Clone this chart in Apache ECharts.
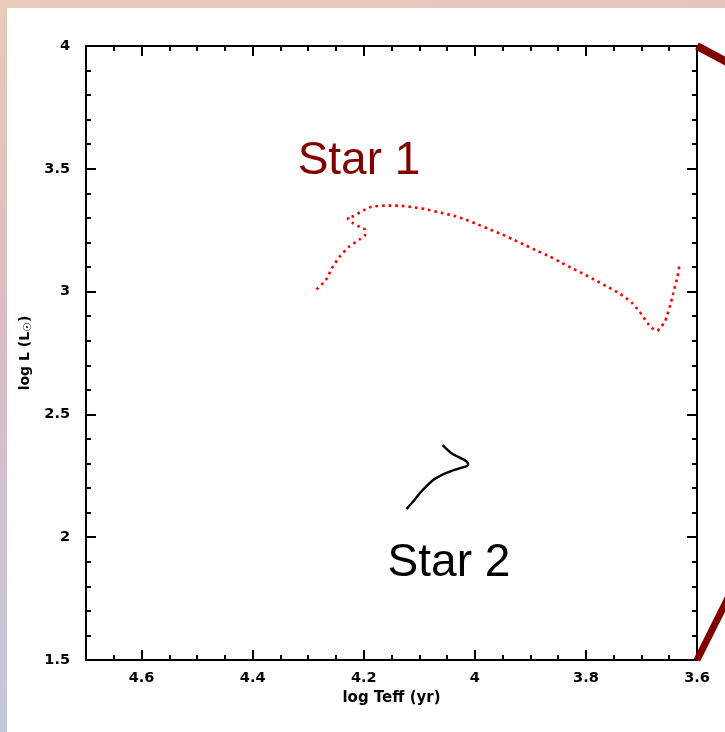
<!DOCTYPE html>
<html>
<head>
<meta charset="utf-8">
<title>HR diagram</title>
<script src="https://cdn.jsdelivr.net/npm/echarts@6/dist/echarts.min.js"></script>
<style>
  html, body { margin: 0; padding: 0; width: 725px; height: 732px; overflow: hidden; }
  body { position: relative; background: linear-gradient(to bottom, #e8cbb8 0%, #dbbcc4 45%, #c4c9dd 100%); }
  #topband { position: absolute; left: 0; top: 0; width: 725px; height: 8px;
             background: linear-gradient(to right, #e8ccb9, #e5c4bc); }
  #sheet { position: absolute; left: 7px; top: 8px; right: 0; bottom: 0; background: #ffffff; }
  #chart { position: absolute; left: 0; top: 0; width: 725px; height: 732px; }
</style>
</head>
<body>
<div id="topband"></div>
<div id="sheet"></div>
<div id="chart"></div>
<script>
// Evolutionary tracks: log Teff vs log L
const star1LogTeff = [4.285, 4.268, 4.257, 4.244, 4.227, 4.207, 4.198, 4.197, 4.207, 4.219, 4.228, 4.228,
  4.218, 4.207, 4.197, 4.185, 4.161, 4.137, 4.113, 4.089, 4.067, 4.043, 4.020, 3.997, 3.976, 3.953,
  3.932, 3.909, 3.887, 3.866, 3.845, 3.823, 3.802, 3.781, 3.759, 3.738, 3.718, 3.703, 3.689, 3.682,
  3.672, 3.665, 3.658, 3.654, 3.647, 3.641, 3.635, 3.631];
const star1LogL = [3.009, 3.048, 3.096, 3.141, 3.182, 3.213, 3.228, 3.251, 3.263, 3.278, 3.294, 3.305,
  3.307, 3.323, 3.335, 3.346, 3.350, 3.350, 3.344, 3.336, 3.324, 3.312, 3.296, 3.276, 3.256, 3.235,
  3.213, 3.189, 3.165, 3.144, 3.119, 3.093, 3.069, 3.044, 3.017, 2.990, 2.956, 2.917, 2.872, 2.853,
  2.840, 2.856, 2.876, 2.902, 2.955, 3.009, 3.061, 3.118];

const star2LogTeff = [4.123, 4.111, 4.099, 4.087, 4.075, 4.060, 4.045, 4.027, 4.012, 4.014, 4.027, 4.042, 4.054, 4.058];
const star2LogL = [2.115, 2.145, 2.179, 2.208, 2.233, 2.253, 2.267, 2.281, 2.294, 2.307, 2.324, 2.342, 2.366, 2.375];

// Axis ranges and tick spacing
const xRange = [3.6, 4.7];
const yRange = [1.5, 4.0];
const xMajorStep = 0.2;
const xMinorStep = 0.05;
const yMajorStep = 0.5;

// Annotation anchors (data coordinates of the text's left/middle)
const labels = [
  { text: 'Star 1', at: [4.319, 3.532], color: '#800000' },
  { text: 'Star 2', at: [4.157, 1.893], color: '#000000' }
];

const pairs = (xs, ys) => xs.map((x, i) => [x, ys[i]]);

const tickFont = { fontFamily: 'DejaVu Sans', fontWeight: 'bold', fontSize: 14.5, color: '#000' };
const blackLine = { color: '#000', width: 2 };

function majorX(position, showLabels) {
  return {
    type: 'value', gridIndex: 0, position: position,
    min: xRange[0], max: xRange[1], interval: xMajorStep, inverse: true,
    axisLine: { show: true, onZero: false, lineStyle: blackLine },
    axisTick: { show: true, inside: true, length: 10, lineStyle: blackLine },
    axisLabel: Object.assign({
      show: showLabels, margin: 11,
      formatter: v => (v > xRange[1] - 0.05 ? '' : String(Math.round(v * 10) / 10))
    }, tickFont),
    splitLine: { show: false },
    name: showLabels ? 'log Teff (yr)' : '',
    nameLocation: 'middle', nameGap: 31,
    nameTextStyle: { fontFamily: 'DejaVu Sans', fontWeight: 'bold', fontSize: 15, color: '#000' }
  };
}
function minorX(position) {
  return {
    type: 'value', gridIndex: 1, position: position,
    min: xRange[0], max: xRange[1], interval: xMinorStep, inverse: true,
    axisLine: { show: false, onZero: false },
    axisTick: { show: true, inside: true, length: 5, lineStyle: blackLine },
    axisLabel: { show: false },
    splitLine: { show: false }
  };
}
function majorY(position, showLabels) {
  return {
    type: 'value', gridIndex: 0, position: position,
    min: yRange[0], max: yRange[1], interval: yMajorStep,
    axisLine: { show: true, onZero: false, lineStyle: blackLine },
    axisTick: { show: true, inside: true, length: 10, lineStyle: blackLine },
    minorTick: { show: true, splitNumber: 5, length: 5, lineStyle: blackLine },
    axisLabel: Object.assign({
      show: showLabels, margin: 16,
      formatter: v => String(Math.round(v * 10) / 10)
    }, tickFont),
    splitLine: { show: false },
    minorSplitLine: { show: false },
    name: showLabels ? 'log L (L{sub|☉})' : '',
    nameLocation: 'middle', nameGap: 40, nameRotate: 90,
    nameTextStyle: {
      fontFamily: 'DejaVu Sans', fontWeight: 'bold', fontSize: 14, color: '#000',
      rich: {
        sub: { fontFamily: 'DejaVu Sans', fontWeight: 'bold', fontSize: 11, color: '#000', padding: [0, 0, -6, 0] }
      }
    }
  };
}

const gridBox = { left: 86, top: 46, right: 28, bottom: 72, containLabel: false, outerBoundsMode: 'none' };

const chart = echarts.init(document.getElementById('chart'), null, { renderer: 'canvas' });
chart.setOption({
  backgroundColor: 'transparent',
  animation: false,
  grid: [Object.assign({}, gridBox), Object.assign({}, gridBox)],
  xAxis: [majorX('bottom', true), majorX('top', false), minorX('bottom'), minorX('top')],
  yAxis: [
    majorY('left', true), majorY('right', false),
    { type: 'value', gridIndex: 1, show: false, min: yRange[0], max: yRange[1] }
  ],
  series: [
    {
      name: 'Star 1', type: 'line', xAxisIndex: 0, yAxisIndex: 0,
      data: pairs(star1LogTeff, star1LogL),
      showSymbol: false, smooth: 0.2,
      lineStyle: { color: '#ff0000', width: 2.6, type: [2.6, 4] }
    },
    {
      name: 'Star 2', type: 'line', xAxisIndex: 0, yAxisIndex: 0,
      data: pairs(star2LogTeff, star2LogL),
      showSymbol: false, smooth: 0.3,
      lineStyle: { color: '#000000', width: 2.4 }
    }
  ]
});

// Text annotations and the dark red connector lines at the frame's right corners
const finder = { xAxisIndex: 0, yAxisIndex: 0 };
const graphics = labels.map(l => {
  const p = chart.convertToPixel(finder, l.at);
  return {
    type: 'text', x: p[0], y: p[1], silent: true,
    style: { text: l.text, fill: l.color, font: '46px "Liberation Sans", Arial, sans-serif',
             align: 'left', verticalAlign: 'middle' }
  };
});
const topRight = chart.convertToPixel(finder, [xRange[0], yRange[1]]);
const bottomRight = chart.convertToPixel(finder, [xRange[0], yRange[0]]);
graphics.push({
  type: 'line', silent: true, z: 10,
  shape: { x1: topRight[0], y1: topRight[1], x2: topRight[0] + 50, y2: topRight[1] + 50 * 15 / 28 },
  style: { stroke: '#800000', lineWidth: 8 }
});
graphics.push({
  type: 'line', silent: true, z: 10,
  shape: { x1: bottomRight[0], y1: bottomRight[1], x2: bottomRight[0] + 50, y2: bottomRight[1] - 100 },
  style: { stroke: '#800000', lineWidth: 7 }
});
chart.setOption({ graphic: graphics });
</script>
</body>
</html>
